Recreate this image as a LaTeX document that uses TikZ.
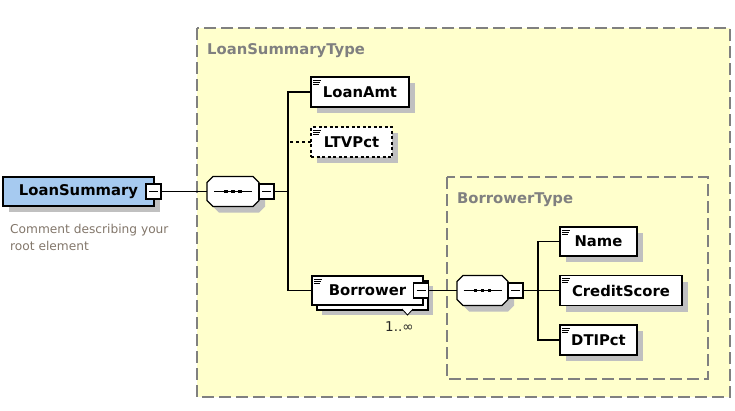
\documentclass[tikz,border=0pt]{standalone}
\usepackage{fontspec}
\setmainfont{DejaVu Sans}
\definecolor{bgyellow}{RGB}{255,255,204}
\definecolor{framegray}{RGB}{128,128,128}
\definecolor{shade}{RGB}{192,192,192}
\definecolor{rootblue}{RGB}{166,202,240}
\definecolor{cmtcol}{RGB}{130,118,106}
\newcommand\seqshape[1]{%
  \draw[seqline] ([shift={(6,0)}]#1.north west) -- ([shift={(-6,0)}]#1.north east)
    -- ([shift={(0,6)}]#1.north east) -- ([shift={(0,-6)}]#1.south east)
    -- ([shift={(-6,0)}]#1.south east) -- ([shift={(6,0)}]#1.south west)
    -- ([shift={(0,-6)}]#1.south west) -- ([shift={(0,6)}]#1.north west) -- cycle;
  \draw[line width=1.2pt] ([xshift=-19pt]#1.center) -- ([xshift=19pt]#1.center);
  \foreach \d in {-7,0,7} \fill[black] ([xshift=\d pt]#1.center) +(-1.8,-1.9) rectangle +(1.8,1.9);
}
\begin{document}
\begin{tikzpicture}[x=1pt,y=-1pt,
  shadowed/.style={preaction={fill=shade, transform canvas={xshift=6pt,yshift=-6pt}}},
  boxfont/.style={font=\fontsize{14.8}{17}\selectfont\bfseries},
  elem/.style={shadowed, draw=black, line width=1.2pt, fill=white, inner sep=0pt, outer sep=0pt,
    anchor=north west, boxfont, text=black},
  optelem/.style={elem, dash pattern=on 3pt off 2.5pt},
  multielem/.style={draw=black, line width=1.2pt, fill=white, inner sep=0pt, outer sep=0pt,
    anchor=north west, boxfont, text=black,
    preaction={fill=shade, transform canvas={xshift=10pt,yshift=-10pt}},
    preaction={draw=black, fill=white, line width=1.2pt, transform canvas={xshift=5pt,yshift=-5pt}}},
  rootelem/.style={shadowed, draw=black, line width=2pt, fill=rootblue, inner sep=0pt, outer sep=0pt,
    anchor=north west, boxfont, text=black},
  minusbox/.style={draw=black, fill=white, line width=1.1pt, minimum size=15pt, inner sep=0pt, outer sep=0pt,
    path picture={\draw[black, line width=1.1pt] ([xshift=3pt]path picture bounding box.west) -- ([xshift=-3pt]path picture bounding box.east);}},
  seqnode/.style={rectangle, inner sep=0pt, outer sep=0pt, minimum width=52pt, minimum height=30pt},
  seqline/.style={shadowed, draw=black, fill=white, line width=1.2pt, line join=miter},
  container/.style={draw=framegray, fill=bgyellow, line width=1.3pt, dash pattern=on 12pt off 5pt},
  innercontainer/.style={draw=framegray, line width=1.3pt, dash pattern=on 12pt off 5pt},
  typelabel/.style={anchor=base west, inner sep=0pt, boxfont, text=framegray},
  conn/.style={draw=black, line width=1.2pt},
  docline/.style={line width=0.9pt}
]
\useasboundingbox (0,0) rectangle (735,410);

% containers
\draw[container] (197,28) rectangle (730,397);
\draw[innercontainer] (447,177) rectangle (708,379);
\node[typelabel] (t1) at (207,54) {LoanSummaryType};
\node[typelabel] (t2) at (457,203) {BorrowerType};

% root element
\node[rootelem, minimum width=151pt, minimum height=29pt] (root) at (3,177) {LoanSummary};
\node[minusbox] (rootm) at (153.5,191.5) {};
\node[anchor=north west, inner sep=0pt, align=left, text=cmtcol,
  font=\fontsize{12.2}{17}\selectfont] (cmt) at (10,224.5) {Comment describing your\\root element};

% first sequence
\node[seqnode] (s1) at (233,191.5) {};
\seqshape{s1}
\node[minusbox] (s1m) at (266.5,191.5) {};
\coordinate (bus1) at (288,191.5);

% children of LoanSummaryType
\node[elem, minimum width=98pt, minimum height=30pt] (loanamt) at (311,77) {LoanAmt};
\node[optelem, minimum width=81pt, minimum height=30pt] (ltv) at (311,127) {LTVPct};
\node[multielem, minimum width=111pt, minimum height=29pt] (borrower) at (312,276) {Borrower};
\node[minusbox] (bm) at (421,290.5) {};
\draw[line width=0.8pt, fill=white] ([shift={(-21,4)}]borrower.south east) -- ([shift={(-15.5,10)}]borrower.south east) -- ([shift={(-10,4)}]borrower.south east);
\node[anchor=base west, inner sep=0pt, font=\fontsize{13.5}{15}\selectfont, text=black!85] (mult) at (385,331) {1..∞};

% second sequence
\node[seqnode, minimum width=51pt] (s2) at (482.5,290.5) {};
\seqshape{s2}
\node[minusbox] (s2m) at (515.5,290.5) {};
\coordinate (bus2) at (538,290.5);

% children of BorrowerType
\node[elem, minimum width=77pt, minimum height=29pt] (name) at (560,227) {Name};
\node[elem, minimum width=122pt, minimum height=30pt] (credit) at (560,275.5) {CreditScore};
\node[elem, minimum width=77pt, minimum height=30pt] (dti) at (560,325) {DTIPct};

% documentation icons
\foreach \n in {loanamt,ltv,borrower,name,credit,dti}{
  \draw[docline] ([shift={(2,3)}]\n.north west) -- ++(8,0);
  \draw[docline] ([shift={(2,5)}]\n.north west) -- ++(7,0);
  \draw[docline] ([shift={(2,7)}]\n.north west) -- ++(6,0);
}

% connectors
\draw[conn] (rootm.east) -- (s1.west);
\draw[conn] (s1m.east) -- (bus1);
\draw[conn] (loanamt.west) -| (bus1) |- (borrower.west);
\draw[conn, dash pattern=on 3.5pt off 2.5pt] (ltv.west) -- (ltv.west -| bus1);
\draw[conn] (bm.east) -- (s2.west);
\draw[conn] (s2m.east) -- (credit.west);
\draw[conn] (name.west) -| (bus2) |- (dti.west);
\end{tikzpicture}
\end{document}
